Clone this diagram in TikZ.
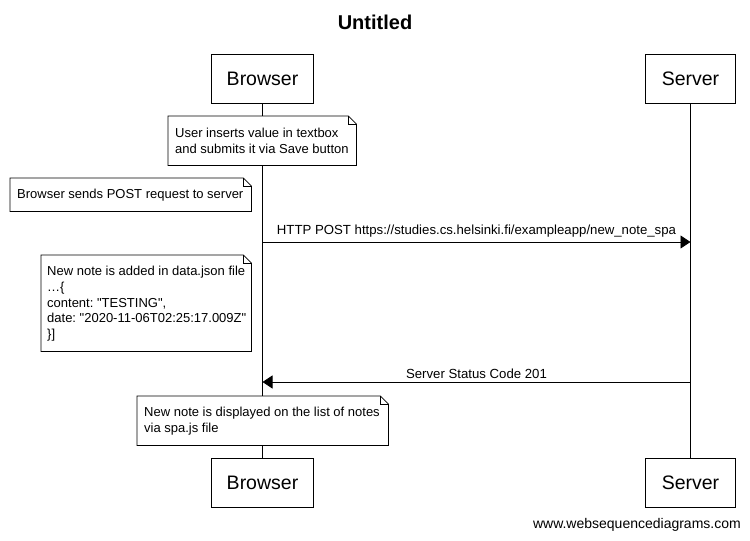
\documentclass[tikz,border=0pt]{standalone}
\usepackage{fontspec}
\setmainfont{Liberation Sans}[Ligatures=TeXOff]
\usetikzlibrary{arrows.meta}
\frenchspacing
\tikzset{
  lbl/.style={font=\fontsize{13.2}{15.7}\selectfont, inner sep=0pt},
  actor/.style={draw, line width=0.8pt, fill=white, font=\fontsize{19.5}{22}\selectfont, inner sep=0pt},
  noteframe/.style={fill=white, inner sep=0pt, anchor=north west},
  notetext/.style={inner sep=0pt, anchor=west, align=left, font=\fontsize{13}{15.7}\selectfont},
  noteline/.style={line width=0.8pt},
  life/.style={line width=0.8pt},
  msg/.style={line width=0.8pt, -{Triangle[length=10pt,width=13pt]}},
}
\begin{document}
\begin{tikzpicture}[x=1pt,y=-1pt]
\useasboundingbox (0,0) rectangle (750,541);
% title
\node[font=\fontsize{20}{24}\selectfont\bfseries] (title) at (375,22) {Untitled};
% actors
\node[actor, minimum width=102pt, minimum height=49pt] (bt) at (262.5,78.5) {Browser};
\node[actor, minimum width=90pt, minimum height=49pt] (st) at (690.5,78.5) {Server};
\node[actor, minimum width=102pt, minimum height=49pt] (bb) at (262.5,483) {Browser};
\node[actor, minimum width=90pt, minimum height=49pt] (sb) at (690.5,483) {Server};
% lifelines
\draw[life] (bt.south) -- (bb.north);
\draw[life] (st.south) -- (sb.north);
% notes
\node[noteframe, minimum width=188pt, minimum height=49pt] (n1) at (168,116) {};
\node[noteframe, minimum width=241pt, minimum height=33pt] (n2) at (10,178) {};
\node[noteframe, minimum width=210pt, minimum height=96pt] (n3) at (41,255) {};
\node[noteframe, minimum width=251pt, minimum height=49pt] (n4) at (137,396) {};
\foreach \n in {n1,n2,n3,n4}{
  \draw[noteline] (\n.north west) -- ([xshift=-8pt]\n.north east) -- ([yshift=-8pt]\n.north east) -- (\n.south east) -- (\n.south west) -- cycle;
  \draw[noteline] ([xshift=-8pt]\n.north east) |- ([yshift=-8pt]\n.north east);
}
\node[notetext] (t1) at ([xshift=7pt,yshift=-0.5pt]n1.west) {User inserts value in textbox\\and submits it via Save button};
\node[notetext] (t2) at ([xshift=7pt,yshift=-0.5pt]n2.west) {Browser sends POST request to server};
\node[notetext] (t3) at ([xshift=6pt,yshift=-0.5pt]n3.west) {New note is added in data.json file\\\ldots\{\\content: "TESTING",\\date: "2020-11-06T02:25:17.009Z"\\\}]};
\node[notetext] (t4) at ([xshift=7pt,yshift=-0.5pt]n4.west) {New note is displayed on the list of notes\\via spa.js file};
% messages
\coordinate (y1) at (0,242);
\coordinate (y2) at (0,382);
\draw[msg] (bt.south |- y1) -- (st.south |- y1) node[lbl, midway, above=4pt] (m1) {HTTP POST https://studies.cs.helsinki.fi/exampleapp/new\_note\_spa};
\draw[msg] (st.south |- y2) -- (bt.south |- y2) node[lbl, midway, above=3pt] (m2) {Server Status Code 201};
% footer
\node[font=\fontsize{14}{16}\selectfont, anchor=east, inner sep=0pt] (foot) at (741,525) {www.websequencediagrams.com};
\end{tikzpicture}
\end{document}
